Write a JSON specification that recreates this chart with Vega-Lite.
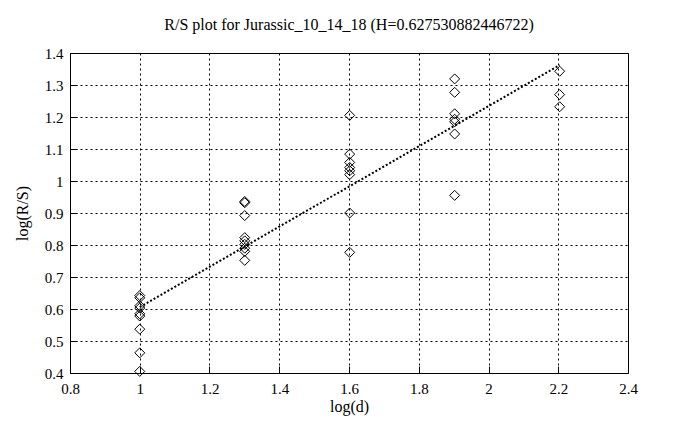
{
  "$schema": "https://vega.github.io/schema/vega-lite/v6.json",
  "autosize": {"type": "none"},
  "width": 558,
  "height": 320,
  "padding": {"left": 70, "top": 53, "right": 58, "bottom": 57},
  "background": "white",
  "config": {
    "font": "Liberation Serif",
    "view": {"stroke": "black", "strokeWidth": 1},
    "axis": {
      "domain": false,
      "grid": true,
      "gridColor": "black",
      "gridDash": [2, 3],
      "gridOpacity": 1,
      "gridWidth": 1,
      "ticks": true,
      "tickColor": "black",
      "tickSize": -7,
      "labelOverlap": false,
      "labelFlush": false,
      "labelBound": false,
      "labelFont": "Liberation Serif",
      "labelFontSize": 15,
      "labelColor": "black",
      "titleFont": "Liberation Serif",
      "titleFontSize": 16,
      "titleFontWeight": "normal",
      "titleColor": "black"
    },
    "title": {"font": "Liberation Serif", "fontSize": 16, "fontWeight": "normal", "color": "black", "offset": 13}
  },
  "title": {"text": "R/S plot for Jurassic_10_14_18 (H=0.627530882446722)"},
  "datasets": {
    "points": [
      {"logd": 1, "logrs": 0.642}, {"logd": 1, "logrs": 0.635}, {"logd": 1, "logrs": 0.61}, {"logd": 1, "logrs": 0.603}, {"logd": 1, "logrs": 0.585}, {"logd": 1, "logrs": 0.578}, {"logd": 1, "logrs": 0.537}, {"logd": 1, "logrs": 0.463}, {"logd": 1, "logrs": 0.405},
      {"logd": 1.301, "logrs": 0.936}, {"logd": 1.301, "logrs": 0.932}, {"logd": 1.301, "logrs": 0.892}, {"logd": 1.301, "logrs": 0.823}, {"logd": 1.301, "logrs": 0.813}, {"logd": 1.301, "logrs": 0.802}, {"logd": 1.301, "logrs": 0.79}, {"logd": 1.301, "logrs": 0.78}, {"logd": 1.301, "logrs": 0.752},
      {"logd": 1.602, "logrs": 1.205}, {"logd": 1.602, "logrs": 1.084}, {"logd": 1.602, "logrs": 1.058}, {"logd": 1.602, "logrs": 1.042}, {"logd": 1.602, "logrs": 1.032}, {"logd": 1.602, "logrs": 1.02}, {"logd": 1.602, "logrs": 0.9}, {"logd": 1.602, "logrs": 0.777},
      {"logd": 1.903, "logrs": 1.319}, {"logd": 1.903, "logrs": 1.277}, {"logd": 1.903, "logrs": 1.21}, {"logd": 1.903, "logrs": 1.193}, {"logd": 1.903, "logrs": 1.185}, {"logd": 1.903, "logrs": 1.147}, {"logd": 1.903, "logrs": 0.955},
      {"logd": 2.204, "logrs": 1.343}, {"logd": 2.204, "logrs": 1.27}, {"logd": 2.204, "logrs": 1.232}
    ],
    "fit": [
      {"logd": 1, "logrs": 0.606},
      {"logd": 2.204, "logrs": 1.362}
    ]
  },
  "encoding": {
    "x": {"field": "logd", "type": "quantitative", "scale": {"domain": [0.8, 2.4], "nice": false, "zero": false},
      "axis": {"title": "log(d)", "values": [0.8, 1, 1.2, 1.4, 1.6, 1.8, 2, 2.2, 2.4], "format": "~g", "labelPadding": 15, "titlePadding": 2}},
    "y": {"field": "logrs", "type": "quantitative", "scale": {"domain": [0.4, 1.4], "nice": false, "zero": false},
      "axis": {"title": "log(R/S)", "values": [0.4, 0.5, 0.6, 0.7, 0.8, 0.9, 1, 1.1, 1.2, 1.3, 1.4], "format": "~g", "labelPadding": 14, "titlePadding": 14}}
  },
  "layer": [
    {
      "data": {"name": "points"},
      "mark": {"type": "point", "shape": "diamond", "filled": false, "stroke": "black", "strokeWidth": 1, "size": 100, "opacity": 1}
    },
    {
      "data": {"name": "fit"},
      "mark": {"type": "line", "color": "black", "strokeWidth": 2, "strokeDash": [2, 2]}
    }
  ]
}
